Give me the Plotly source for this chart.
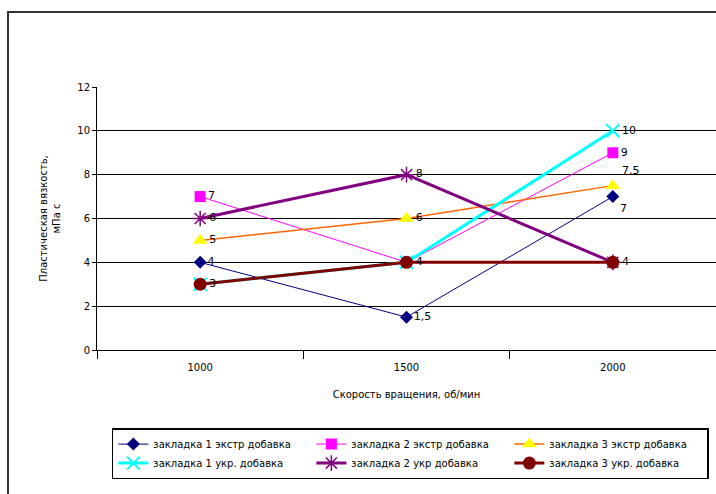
import plotly.graph_objects as go

speeds = ["1000", "1500", "2000"]
names = ["закладка 1 экстр добавка", "закладка 2 экстр добавка", "закладка 3 экстр добавка",
         "закладка 1 укр. добавка", "закладка 2 укр добавка", "закладка 3 укр. добавка"]
s1 = [4, 1.5, 7]
s2 = [7, 4, 9]
s3 = [5, 6, 7.5]
s4 = [3, 4, 10]
s5 = [6, 8, 4]
s6 = [3, 4, 4]
series = [s1, s2, s3, s4, s5, s6]
# which point labels are visible (coincident labels are drawn once)
label_on = [[1, 1, 1], [1, 0, 1], [1, 1, 1], [0, 0, 1], [1, 1, 0], [1, 1, 1]]

styles = [
    dict(line=dict(color="#000080", width=1), marker=dict(symbol="diamond", size=10, color="#000080")),
    dict(line=dict(color="#FF00FF", width=1), marker=dict(symbol="square", size=11, color="#FF00FF")),
    dict(line=dict(color="#FF6600", width=1.5), marker=dict(symbol="triangle-up", size=13, color="#FFFF00")),
    dict(line=dict(color="#00FFFF", width=3), marker=dict(symbol="x-thin-open", size=13, color="#00FFFF", line=dict(width=2, color="#00FFFF"))),
    dict(line=dict(color="#800080", width=3), marker=dict(symbol="asterisk-open", size=13, color="#800080", line=dict(width=1.5, color="#800080"))),
    dict(line=dict(color="#800000", width=3), marker=dict(symbol="circle", size=13, color="#800000")),
]

def fmt(v):
    return (str(v).replace(".", ",")) if v != int(v) else str(int(v))

fig = go.Figure()
for i, (name, vals, st) in enumerate(zip(names, series, styles)):
    pos = ["middle right"] * 3
    if i == 0:
        pos[2] = "bottom right"
    if i == 2:
        pos[2] = "top right"
    fig.add_trace(go.Scatter(
        x=speeds, y=vals, name=name, mode="lines+markers+text",
        text=[fmt(v) if on else "" for v, on in zip(vals, label_on[i])], textposition=pos,
        textfont=dict(family="DejaVu Sans", size=11, color="black"),
        **st))

fig.update_layout(
    width=716, height=494,
    margin=dict(l=97, r=0, t=87, b=144),
    paper_bgcolor="white", plot_bgcolor="white",
    font=dict(family="DejaVu Sans", color="black"),
    showlegend=True,
    legend=dict(orientation="h", x=0.024, y=-0.297, xanchor="left", yanchor="top",
                bordercolor="black", borderwidth=1.5, bgcolor="white",
                entrywidth=153, entrywidthmode="pixels", itemwidth=30,
                font=dict(size=10, family="DejaVu Sans", color="black"),
                tracegroupgap=0),
    xaxis=dict(type="category", tickson="boundaries", ticks="outside", ticklen=8,
               tickcolor="black", showline=True, linecolor="black", linewidth=1,
               showgrid=False, range=[-0.5, 2.5], ticklabelstandoff=8,
               tickfont=dict(size=10, family="DejaVu Sans", color="black"),
               title=dict(text="Скорость вращения, об/мин", font=dict(size=10, family="DejaVu Sans"), standoff=18)),
    yaxis=dict(range=[0, 12], dtick=2, ticks="outside", ticklen=4, tickcolor="black",
               showline=True, linecolor="black", linewidth=1,
               showgrid=True, gridcolor="black", gridwidth=1, zeroline=False,
               tickfont=dict(size=10, family="DejaVu Sans", color="black"),
               title=dict(text="Пластическая вязкость,<br>мПа с", font=dict(size=10, family="DejaVu Sans"), standoff=14)),
)
fig.add_shape(type="rect", xref="paper", yref="paper", x0=-0.1438, y0=-0.6, x1=1.05, y1=1.285,
              line=dict(color="#333333", width=2), layer="below")
fig.write_html("out.html")
